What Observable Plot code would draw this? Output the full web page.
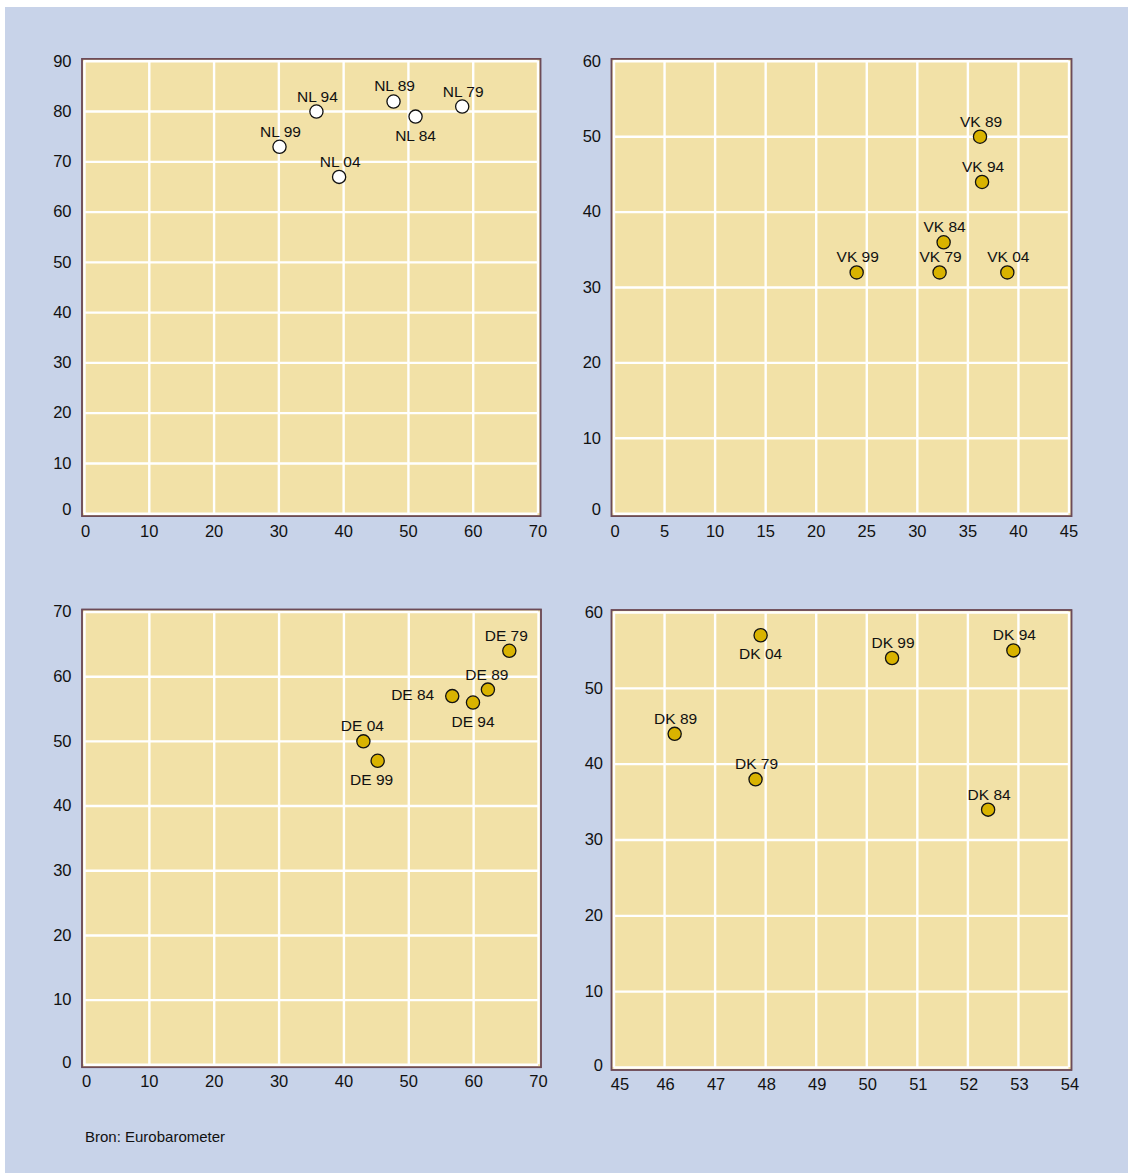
<!DOCTYPE html>
<html>
<head>
<meta charset="utf-8">
<script src="https://cdn.jsdelivr.net/npm/d3@7"></script>
<script src="https://cdn.jsdelivr.net/npm/@observablehq/plot@0.6"></script>
<style>
  html, body { margin: 0; padding: 0; background: #ffffff; }
  #wrap { position: relative; width: 1128px; height: 1173px; background: #ffffff; overflow: hidden; }
  #bg { position: absolute; left: 5px; top: 7px; right: 0; bottom: 0; background: #c8d3e9; }
  .panel { position: absolute; }
  #caption { position: absolute; left: 85px; top: 1128px; font-family: "Liberation Sans", Arial, sans-serif; font-size: 15px; line-height: 18px; color: #111111; }
</style>
</head>
<body>
<div id="wrap">
  <div id="bg"></div>
  <div id="caption">Bron: Eurobarometer</div>
</div>
<script>
// ---- Data ----
const nlLabels = ["NL 79", "NL 84", "NL 89", "NL 94", "NL 99", "NL 04"];
const nlX = [58.3, 51.1, 47.7, 35.8, 30.1, 39.3];
const nlY = [81, 79, 82, 80, 73, 67];
const nlXTicks = [0, 10, 20, 30, 40, 50, 60, 70];
const nlYTicks = [0, 10, 20, 30, 40, 50, 60, 70, 80, 90];

const vkLabels = ["VK 79", "VK 84", "VK 89", "VK 94", "VK 99", "VK 04"];
const vkX = [32.2, 32.6, 36.2, 36.4, 24.0, 38.9];
const vkY = [32, 36, 50, 44, 32, 32];
const vkXTicks = [0, 5, 10, 15, 20, 25, 30, 35, 40, 45];
const vkYTicks = [0, 10, 20, 30, 40, 50, 60];

const deLabels = ["DE 79", "DE 84", "DE 89", "DE 94", "DE 99", "DE 04"];
const deX = [65.5, 56.7, 62.2, 59.9, 45.2, 43.0];
const deY = [64, 57, 58, 56, 47, 50];
const deXTicks = [0, 10, 20, 30, 40, 50, 60, 70];
const deYTicks = [0, 10, 20, 30, 40, 50, 60, 70];

const dkLabels = ["DK 79", "DK 84", "DK 89", "DK 94", "DK 99", "DK 04"];
const dkX = [47.8, 52.4, 46.2, 52.9, 50.5, 47.9];
const dkY = [38, 34, 44, 55, 54, 57];
const dkXTicks = [45, 46, 47, 48, 49, 50, 51, 52, 53, 54];
const dkYTicks = [0, 10, 20, 30, 40, 50, 60];

const source = "Bron: Eurobarometer";

// ---- Label placement (styling) ----
const belowSet = new Set(["NL 84", "DE 94", "DE 99", "DK 04"]);
const leftSet = new Set(["DE 84"]);
const nudgeX = {"DE 99": -6, "DE 79": -4, "DE 89": -2, "DE 04": -2};

const FONT = '"Liberation Sans", Arial, sans-serif';
const YELLOW = "#f2e1a7";
const FRAME = "#6d4b57";
const GOLD = "#d9b300";
const INK = "#111111";

function panel(o) {
  const rows = o.labels.map((l, i) => ({label: l, x: o.xs[i], y: o.ys[i]}));
  const textMarks = rows.map(r => {
    const nx = nudgeX[r.label] || 0;
    if (leftSet.has(r.label)) {
      return Plot.text([r], {x: "x", y: "y", text: "label", textAnchor: "end", dx: -18, dy: -1, fontSize: 15.5, fill: INK});
    }
    if (belowSet.has(r.label)) {
      return Plot.text([r], {x: "x", y: "y", text: "label", dy: 19, dx: nx, fontSize: 15.5, fill: INK});
    }
    return Plot.text([r], {x: "x", y: "y", text: "label", dy: -15, dx: nx + 1, fontSize: 15.5, fill: INK});
  });
  const yNonZero = o.yTicks.filter(t => t !== 0);
  const xFirst = [o.xTicks[0]];
  const xRest = o.xTicks.slice(1);
  const chart = Plot.plot({
    width: o.width,
    height: o.height,
    marginLeft: o.ml, marginRight: o.mr, marginTop: o.mt, marginBottom: o.mb,
    x: {domain: [o.xTicks[0], o.xTicks[o.xTicks.length - 1]], axis: null},
    y: {domain: [o.yTicks[0], o.yTicks[o.yTicks.length - 1]], axis: null},
    style: {background: "transparent", fontFamily: FONT, fontSize: "16px", color: INK, overflow: "visible"},
    marks: [
      Plot.frame({fill: YELLOW, stroke: FRAME, strokeWidth: 1.5, inset: -2.5}),
      Plot.gridX(o.xTicks, {stroke: "#ffffff", strokeOpacity: 1, strokeWidth: 2.4}),
      Plot.gridY(o.yTicks, {stroke: "#ffffff", strokeOpacity: 1, strokeWidth: 2.4}),
      Plot.frame({stroke: FRAME, strokeWidth: 1.5, inset: -2.5}),
      Plot.dot(rows, {x: "x", y: "y", r: 6.6, fill: o.fill, stroke: "#111111", strokeWidth: 1.3}),
      ...textMarks,
      // y tick labels
      Plot.text(yNonZero, {y: d => d, text: d => String(d), frameAnchor: "left", textAnchor: "end", dx: -o.yPad, fontSize: 16.5, fill: INK}),
      Plot.text([0].filter(z => o.yTicks.includes(z)), {y: d => d, text: d => String(d), frameAnchor: "left", textAnchor: "end", dx: -o.yPad, dy: o.zeroDy, fontSize: 16.5, fill: INK}),
      // x tick labels
      Plot.text(xFirst, {x: d => d, text: d => String(d), frameAnchor: "bottom", lineAnchor: "top", dy: o.xPad, dx: o.firstDx, fontSize: 16.5, fill: INK}),
      Plot.text(xRest, {x: d => d, text: d => String(d), frameAnchor: "bottom", lineAnchor: "top", dy: o.xPad, dx: o.restDx, fontSize: 16.5, fill: INK})
    ]
  });
  chart.classList.add("panel");
  chart.style.left = o.left + "px";
  chart.style.top = o.top + "px";
  chart.style.position = "absolute";
  document.getElementById("wrap").appendChild(chart);
}

panel({labels: nlLabels, xs: nlX, ys: nlY, xTicks: nlXTicks, yTicks: nlYTicks, fill: "#ffffff",
  left: 0, top: 0, width: 564, height: 560, ml: 84, mr: 26.5, mt: 60.8, mb: 46.8,
  yPad: 13, xPad: 12, zeroDy: -4, firstDx: 1, restDx: 0});

panel({labels: vkLabels, xs: vkX, ys: vkY, xTicks: vkXTicks, yTicks: vkYTicks, fill: GOLD,
  left: 564, top: 0, width: 564, height: 560, ml: 49.5, mr: 59.5, mt: 60.8, mb: 46.8,
  yPad: 13, xPad: 12, zeroDy: -4, firstDx: 1, restDx: 0});

panel({labels: deLabels, xs: deX, ys: deY, xTicks: deXTicks, yTicks: deYTicks, fill: GOLD,
  left: 0, top: 560, width: 564, height: 560, ml: 84, mr: 26, mt: 51.5, mb: 55.7,
  yPad: 13, xPad: 10, zeroDy: -2, firstDx: 2, restDx: 0});

panel({labels: dkLabels, xs: dkX, ys: dkY, xTicks: dkXTicks, yTicks: dkYTicks, fill: GOLD,
  left: 564, top: 560, width: 564, height: 560, ml: 49.5, mr: 59.5, mt: 52, mb: 53,
  yPad: 11, xPad: 11, zeroDy: -2, firstDx: 6, restDx: 1});

document.getElementById("caption").textContent = source;
</script>
</body>
</html>
